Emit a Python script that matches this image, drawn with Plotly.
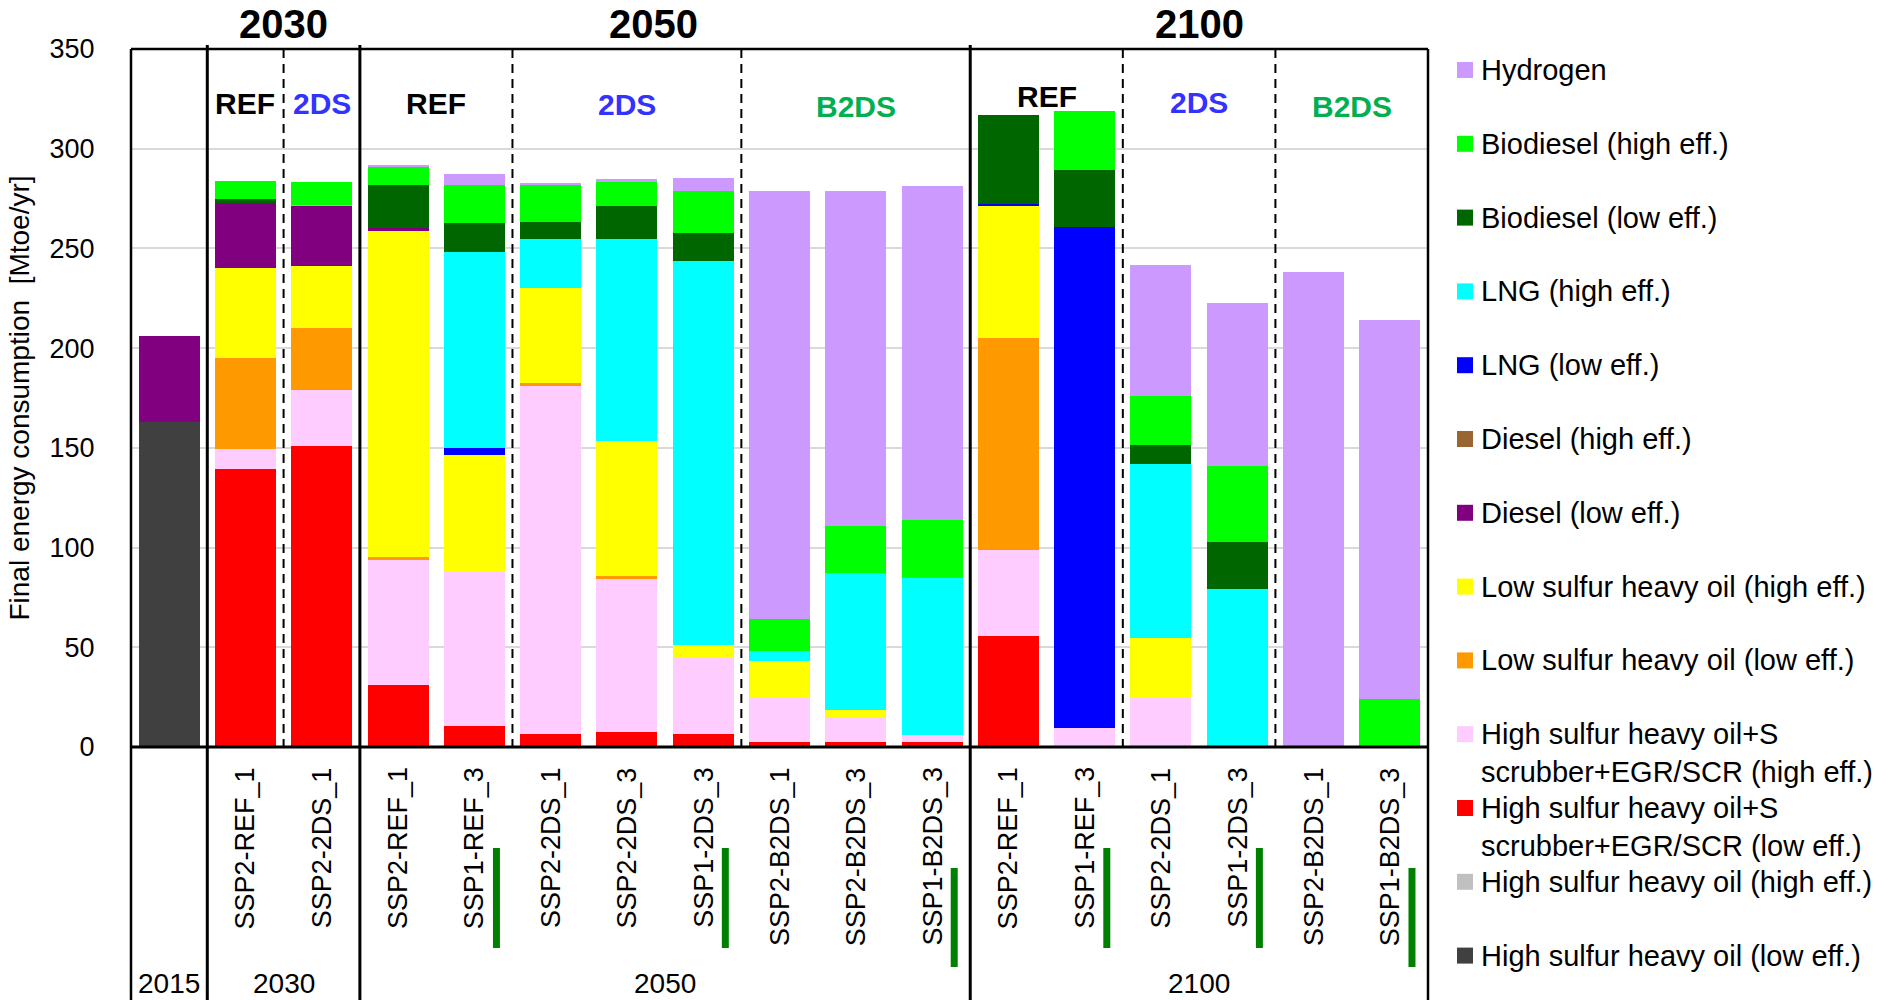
import plotly.graph_objects as go

# ---------------- data ----------------
scenario_labels = ["", "SSP2-REF_1", "SSP2-2DS_1",
                   "SSP2-REF_1", "SSP1-REF_3", "SSP2-2DS_1", "SSP2-2DS_3", "SSP1-2DS_3",
                   "SSP2-B2DS_1", "SSP2-B2DS_3", "SSP1-B2DS_3",
                   "SSP2-REF_1", "SSP1-REF_3", "SSP2-2DS_1", "SSP1-2DS_3", "SSP2-B2DS_1", "SSP1-B2DS_3"]
years = ["2015", "2030", "2050", "2100"]
year_first = [0, 1, 3, 11]
year_last = [0, 2, 10, 16]
group_names = ["REF", "2DS", "REF", "2DS", "B2DS", "REF", "2DS", "B2DS"]
group_first = [1, 2, 3, 5, 8, 11, 13, 15]
group_last = [1, 2, 4, 7, 10, 12, 14, 16]

# stacking order: bottom -> top
series_names = [
    "High sulfur heavy oil (low eff.)",
    "High sulfur heavy oil (high eff.)",
    "High sulfur heavy oil+S<br>scrubber+EGR/SCR (low eff.)",
    "High sulfur heavy oil+S<br>scrubber+EGR/SCR (high eff.)",
    "Low sulfur heavy oil (low eff.)",
    "Low sulfur heavy oil (high eff.)",
    "Diesel (low eff.)",
    "Diesel (high eff.)",
    "LNG (low eff.)",
    "LNG (high eff.)",
    "Biodiesel (low eff.)",
    "Biodiesel (high eff.)",
    "Hydrogen",
]
series_colors = ["#404040", "#c0c0c0", "#ff0000", "#ffccff", "#ff9900", "#ffff00",
                 "#800080", "#996633", "#0000ff", "#00ffff", "#006600", "#00ff00", "#cc99ff"]

hs_low = [163, 0, 0, 0, 0, 0, 0, 0, 0, 0, 0, 0, 0, 0, 0, 0, 0]
hs_high = [0, 0, 0, 0, 0, 0, 0, 0, 0, 0, 0, 0, 0, 0, 0, 0, 0]
hss_low = [0, 139.5, 151, 31.3, 10.7, 6.7, 7.5, 6.7, 2.3, 2.3, 2.3, 55.6, 0, 0, 0, 0, 0]
hss_high = [0, 10, 28.2, 62.5, 76.9, 174.5, 76.6, 38.5, 22.5, 12.1, 3.6, 43.2, 9.4, 24.8, 0, 0, 0]
ls_low = [0, 45.8, 30.7, 1.3, 0, 1.3, 1.8, 0, 0, 0, 0, 106.2, 0, 0, 0, 0, 0]
ls_high = [0, 45.1, 31.1, 164.1, 58.6, 47.8, 67.3, 5.7, 18.2, 4.4, 0, 66.4, 0, 29.8, 0, 0, 0]
diesel_low = [43, 32.2, 30.7, 0.8, 0, 0, 0, 0, 0, 0, 0, 0, 0, 0, 0, 0, 0]
diesel_high = [0, 0, 0, 0, 0, 0, 0, 0, 0, 0, 0, 0, 0, 0, 0, 0, 0]
lng_low = [0, 0, 0, 0, 3.8, 0, 0, 0, 0, 0, 0, 0.8, 251.1, 0, 0, 0, 0]
lng_high = [0, 0, 0.3, 0, 98.1, 24.2, 101.3, 192.8, 5.1, 68.6, 78.9, 0, 0, 87.2, 79.1, 0, 0]
bio_low = [0, 2.1, 0, 21.8, 14.7, 8.8, 16.7, 14.1, 0, 0, 0, 44.8, 28.8, 9.7, 23.7, 0, 0]
bio_high = [0, 9.1, 11.4, 9.2, 19, 18.8, 12.6, 21.1, 16.1, 23.2, 29.1, 0, 29.7, 24.7, 38.2, 0, 24]
hydrogen = [0, 0, 0, 0.8, 5.7, 0.5, 0.8, 6.2, 214.7, 168.3, 167.2, 0, 0, 65.4, 81.7, 238, 190.2]

series_values = [hs_low, hs_high, hss_low, hss_high, ls_low, ls_high, diesel_low,
                 diesel_high, lng_low, lng_high, bio_low, bio_high, hydrogen]

y_ticks = [0, 50, 100, 150, 200, 250, 300, 350]

# ---------------- layout helpers ----------------
W, H = 1895, 1000
L, R, T, B = 131, 1428, 49, 747
N = len(scenario_labels)
FONT = "Liberation Sans, Arial, sans-serif"
scen_colors = {"REF": "black", "2DS": "#3333ff", "B2DS": "#00b050"}


def px_x(p):
    return (p - L) / (R - L)


def px_y(p):
    return (B - p) / (B - T)


def xd(i):
    return (i + 0.5) / N


fig = go.Figure()
xs = list(range(N))
for name, col, vals in zip(series_names, series_colors, series_values):
    fig.add_trace(go.Bar(x=xs, y=vals, name=name.replace("<br>", " "),
                         marker=dict(color=col, line=dict(width=0)),
                         showlegend=False))

shapes = []
annotations = []

# frame
shapes.append(dict(type="line", xref="x domain", yref="paper", x0=0, x1=1, y0=1, y1=1,
                   line=dict(color="black", width=2.5)))
for xx in (0, 1):
    shapes.append(dict(type="line", xref="x domain", yref="paper", x0=xx, x1=xx,
                       y0=1, y1=px_y(H), line=dict(color="black", width=2.5)))
# zero line
shapes.append(dict(type="line", xref="x domain", yref="paper", x0=0, x1=1, y0=0, y1=0,
                   line=dict(color="black", width=3)))
# solid year dividers
for f in year_first[1:]:
    xx = f / N
    shapes.append(dict(type="line", xref="x domain", yref="paper", x0=xx, x1=xx,
                       y0=px_y(45), y1=px_y(H), line=dict(color="black", width=3)))
# dashed scenario dividers
year_starts = set(year_first)
for f in group_first:
    if f not in year_starts:
        xx = f / N
        shapes.append(dict(type="line", xref="x domain", yref="paper", x0=xx, x1=xx,
                           y0=1, y1=0, line=dict(color="black", width=2, dash="9px,6px")))

# year titles on top, bold
year_title_shift = {"2030": 0.0, "2050": -0.15, "2100": 0.0}
for yname, a, b in zip(years, year_first, year_last):
    if yname == "2015":
        continue
    annotations.append(dict(text="<b>%s</b>" % yname, xref="x domain", yref="paper",
                            x=xd((a + b) / 2 + year_title_shift[yname]), y=px_y(24),
                            showarrow=False, xanchor="center", yanchor="middle",
                            font=dict(family=FONT, size=40, color="black")))
# scenario group labels
scen_y = [104, 104, 104, 105, 107, 97, 103, 107]
for g, a, b, yy in zip(group_names, group_first, group_last, scen_y):
    annotations.append(dict(text="<b>%s</b>" % g, xref="x domain", yref="paper",
                            x=xd((a + b) / 2), y=px_y(yy), showarrow=False,
                            xanchor="center", yanchor="middle",
                            font=dict(family=FONT, size=30, color=scen_colors[g])))
# rotated category labels
for i, lab in enumerate(scenario_labels):
    if not lab:
        continue
    annotations.append(dict(text=lab, xref="x domain", yref="paper", x=xd(i), y=px_y(765),
                            textangle=-90, showarrow=False, xanchor="center", yanchor="top",
                            font=dict(family=FONT, size=27, color="black")))
    if lab.startswith("SSP1"):
        top, bot = (868, 967) if "B2DS" in lab else (848, 948)
        xx = xd(i) + 0.29 / N
        shapes.append(dict(type="line", xref="x domain", yref="paper", x0=xx, x1=xx,
                           y0=px_y(top), y1=px_y(bot), line=dict(color="#008000", width=7)))
# year labels at bottom
for yname, a, b in zip(years, year_first, year_last):
    annotations.append(dict(text=yname, xref="x domain", yref="paper",
                            x=xd((a + b) / 2), y=px_y(984), showarrow=False,
                            xanchor="center", yanchor="middle",
                            font=dict(family=FONT, size=28, color="black")))

# custom legend (top item = last series)
for k, idx in enumerate(reversed(range(len(series_names)))):
    cy = 70 + 73.8 * k
    shapes.append(dict(type="rect", xref="paper", yref="paper",
                       x0=px_x(1457), x1=px_x(1473), y0=px_y(cy - 8), y1=px_y(cy + 8),
                       fillcolor=series_colors[idx], line=dict(width=0)))
    name = series_names[idx]
    two = "<br>" in name
    annotations.append(dict(text=name, xref="paper", yref="paper", x=px_x(1479),
                            y=px_y(cy + (18.5 if two else 0)), showarrow=False,
                            xanchor="left", yanchor="middle", align="left",
                            font=dict(family=FONT, size=29, color="black")))

fig.update_layout(
    width=W, height=H,
    margin=dict(l=L, r=W - R, t=T, b=H - B, pad=0),
    barmode="stack", bargap=0.2,
    plot_bgcolor="white", paper_bgcolor="white",
    shapes=shapes, annotations=annotations,
    showlegend=False,
    xaxis=dict(range=[-0.5, N - 0.5], showticklabels=False, showgrid=False,
               zeroline=False, showline=False, ticks=""),
    yaxis=dict(range=[0, 350], tickvals=y_ticks, showgrid=True, gridcolor="#d9d9d9",
               gridwidth=1.5, zeroline=False, showline=False,
               ticks="outside", ticklen=30, tickcolor="rgba(0,0,0,0)",
               tickfont=dict(family=FONT, size=27, color="black"),
               title=dict(text="Final energy consumption  [Mtoe/yr]", standoff=11,
                          font=dict(family=FONT, size=28, color="black"))),
)

fig.write_html("out.html", config={"displayModeBar": False},
               post_script="document.body.style.margin='0';")
